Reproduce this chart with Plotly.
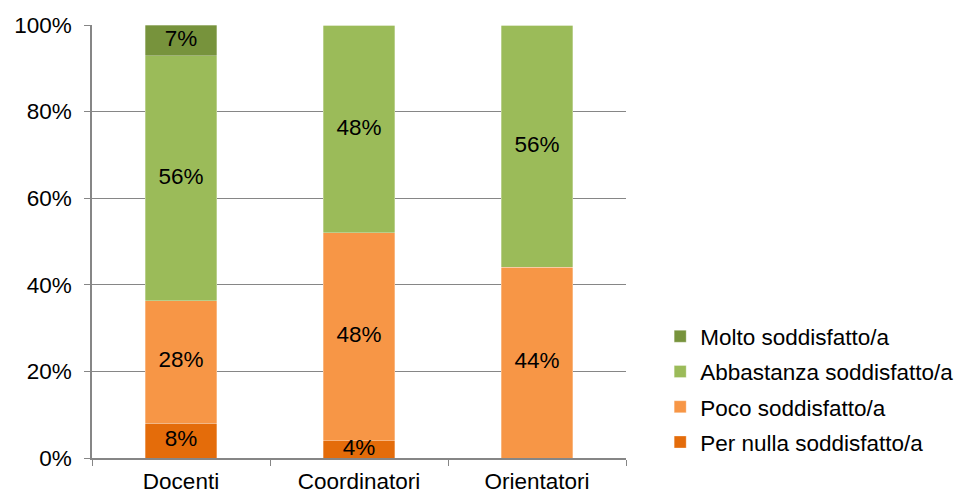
import plotly.graph_objects as go

# Survey groups and satisfaction levels (values in percent)
categories = ["Docenti", "Coordinatori", "Orientatori"]
per_nulla = [8, 4, 0]
poco = [28, 48, 44]
abbastanza = [56, 48, 56]
molto = [7, 0, 0]

y_ticks = [0, 20, 40, 60, 80, 100]
y_tick_labels = [f"{v}%" for v in y_ticks]

series = [
    ("Per nulla soddisfatto/a", per_nulla, "#E46C0A"),
    ("Poco soddisfatto/a", poco, "#F79646"),
    ("Abbastanza soddisfatto/a", abbastanza, "#9BBB59"),
    ("Molto soddisfatto/a", molto, "#77933C"),
]

FONT = "Liberation Sans, Arial, sans-serif"
GRID = "#868686"
FS = 22.5

fig = go.Figure()
for i, (name, vals, color) in enumerate(series):
    fig.add_trace(go.Bar(
        x=categories,
        y=vals,
        name=name,
        legendgroup=f"g{i}",
        legendrank=100 * (len(series) - i),  # top segment listed first
        marker=dict(color=color, line=dict(color="rgba(255,255,255,0.5)", width=0.6)),
        width=0.4,
        hoverinfo="skip",
    ))

# Value labels centred in each stacked segment (bars are normalised to 100%)
totals = [sum(s[1][j] for s in series) for j in range(len(categories))]
lab_x, lab_y, lab_t = [], [], []
for j, cat in enumerate(categories):
    base = 0.0
    for _, vals, _ in series:
        share = vals[j] / totals[j] * 100
        if vals[j] > 0:
            lab_x.append(cat)
            lab_y.append(base + share / 2)
            lab_t.append(f"{vals[j]}%")
        base += share

fig.add_trace(go.Scatter(
    x=lab_x,
    y=lab_y,
    text=lab_t,
    mode="text",
    textposition="middle center",
    textfont=dict(family=FONT, size=FS, color="#000000"),
    showlegend=False,
    hoverinfo="skip",
    cliponaxis=False,
))

fig.update_layout(
    width=971,
    height=495,
    barmode="stack",
    barnorm="percent",
    plot_bgcolor="white",
    paper_bgcolor="white",
    margin=dict(l=92, r=331, t=25, b=37),
    font=dict(family=FONT, size=FS, color="#000000"),
    legend=dict(
        x=1.064, y=0.330, xanchor="left", yanchor="top",
        traceorder="grouped",
        tracegroupgap=3,
        font=dict(family=FONT, size=FS, color="#000000"),
        itemwidth=30,
        bgcolor="rgba(0,0,0,0)",
    ),
    xaxis=dict(
        type="category",
        tickson="boundaries",
        ticks="outside",
        ticklen=6,
        tickcolor=GRID,
        showline=True,
        linecolor=GRID,
        linewidth=1.5,
        showgrid=False,
        automargin=False,
        ticklabelstandoff=2,
        tickfont=dict(family=FONT, size=FS, color="#000000"),
    ),
    yaxis=dict(
        range=[0, 100],
        tickmode="array",
        tickvals=y_ticks,
        ticktext=y_tick_labels,
        ticks="outside",
        ticklen=6,
        tickcolor=GRID,
        showline=True,
        linecolor=GRID,
        linewidth=1.5,
        showgrid=True,
        gridcolor=GRID,
        gridwidth=1.3,
        zeroline=False,
        automargin=False,
        ticklabelstandoff=8,
        tickfont=dict(family=FONT, size=FS, color="#000000"),
    ),
)

fig.write_html("out.html")
